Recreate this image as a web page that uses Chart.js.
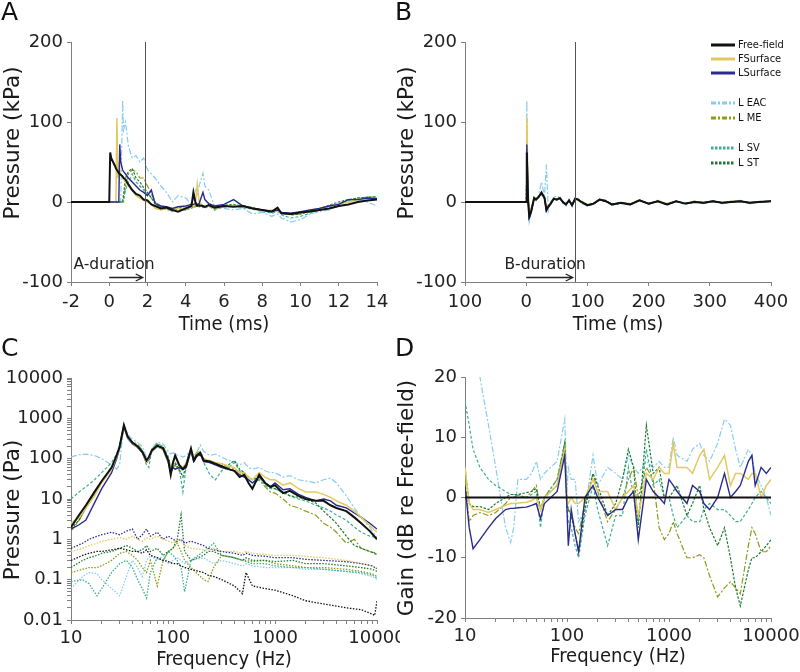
<!DOCTYPE html>
<html>
<head>
<meta charset="utf-8">
<script src="https://cdn.jsdelivr.net/npm/chart.js@4.4.0/dist/chart.umd.min.js"></script>
<style>
  body { margin: 0; background: #fff; width: 800px; height: 672px; position: relative; overflow: hidden; font-family: "DejaVu Sans", sans-serif; }
  canvas { position: absolute; }
  .panel { position: absolute; font-size: 25px; line-height: 25px; color: #111; }
  #legend { position: absolute; left: 711px; top: 0; font-family: "DejaVu Sans Condensed", "DejaVu Sans", sans-serif; font-size: 11px; color: #111; }
  #legend .row { position: absolute; left: 0; height: 14px; line-height: 14px; white-space: nowrap; }
  #legend svg { vertical-align: middle; margin-right: 3px; }
</style>
</head>
<body>
<canvas id="cA" width="400" height="336" style="left:0;top:0"></canvas>
<canvas id="cB" width="406" height="336" style="left:394px;top:0"></canvas>
<canvas id="cC" width="400" height="336" style="left:0;top:336px"></canvas>
<canvas id="cD" width="406" height="336" style="left:394px;top:336px"></canvas>
<div class="panel" style="left:1px;top:-1px">A</div>
<div class="panel" style="left:395px;top:-1px">B</div>
<div class="panel" style="left:1px;top:335px">C</div>
<div class="panel" style="left:395px;top:335px">D</div>
<div id="legend"></div>
<script>
// ---- series names and styles ----
const names  = ['Free-field', 'FSurface', 'LSurface', 'L EAC', 'L ME', 'L SV', 'L ST'];
const colors = ['#111111', '#e2ca5e', '#2b2b8f', '#88cdef', '#8e9b17', '#3cb08f', '#1c7b33'];
const dashes = [[], [], [], [6, 2, 2, 2], [6, 2, 2, 2], [3, 2], [2.5, 1.5]];
const widths = [2, 1.5, 1.4, 1.2, 1.2, 1.2, 1.2];

// ---- panel A: time (ms) / pressure (kPa) ----
const tA = [-2, 0, 0.05, 0.1, 0.3, 0.35, 0.4, 0.45, 0.5, 0.55,
  0.6, 0.7, 0.75, 0.85, 1.0, 1.2, 1.4, 1.6, 1.8, 2.0,
  2.2, 2.4, 2.7, 3.0, 3.3, 3.6, 4.0, 4.3, 4.4, 4.5,
  4.6, 4.7, 4.9, 5.0, 5.2, 5.5, 6, 6.5, 7, 7.5,
  8, 8.5, 8.8, 9, 9.5, 10, 10.5, 11, 11.5, 12,
  12.5, 13, 13.5, 14];
const ffA = [0, 0, 62, 55, 45, 42, 40, 38, 36, 35,
  34, 32, 30, 28, 22, 15, 10, 8, 3, 2,
  -3, -5, -8, -7, -10, -12, -8, -5, 12, 0,
  -5, -4, -5, -6, -4, -7, -5, -6, -5, -8,
  -10, -12, -7, -14, -15, -13, -12, -10, -8, -5,
  -3, 0, 2, 3];
const fsA = [0, 0, 0, 0, 0, 0, 105, 30, 45, 40,
  35, 30, 30, 25, 20, 15, 8, 5, 2, 0,
  -3, -8, -10, -8, -9, -8, -8, -6, -5, -3,
  22, 0, -5, -6, -5, -8, -6, -4, -6, -8,
  -12, -10, -12, -13, -14, -14, -10, -8, -5, -2,
  0, 3, 4, 5];
const lsA = [0, 0, 0, 0, 0, 0, 0, 0, 0, 72,
  50, 40, 38, 35, 30, 25, 20, 15, 12, 8,
  15, -2, -5, -6, -8, -6, -5, -3, -3, -2,
  -3, -2, 12, 3, -2, -5, -3, 3, -5, -8,
  -10, -12, -10, -13, -14, -12, -10, -8, -5, -3,
  3, 3, 5, 4];
const eacA = [0, 0, 0, 0, 0, 0, 0, 0, 0, 0,
  0, 127, 90, 100, 70, 55, 58, 50, 55, 40,
  35, 30, 20, 12, 0, 8, 5, -3, 5, 15,
  10, 20, 36, 20, 15, -5, -8, -10, -8, -15,
  -13, -18, -15, -20, -25, -22, -15, -12, -10, -5,
  0, 2, 0, -5];
const meA = [0, 0, 0, 0, 0, 0, 0, 0, 0, 0,
  0, 0, 0, 20, 35, 40, 38, 30, 30, 20,
  10, 0, -8, -10, -10, -9, -10, -8, -6, -6,
  -5, -6, -7, -6, -5, -8, -6, -4, -7, -8,
  -10, -12, -10, -14, -16, -15, -12, -8, -5, -2,
  2, 4, 5, 6];
const svA = [0, 0, 0, 0, 0, 0, 0, 0, 0, 0,
  0, 0, 5, 15, 25, 35, 25, 20, 15, 10,
  5, 0, -5, -8, -12, -8, -10, -6, -5, -4,
  -5, -3, -6, -8, -5, -10, -6, -5, -7, -9,
  -12, -14, -12, -16, -20, -18, -14, -10, -6, -2,
  2, 5, 6, 7];
const stA = [0, 0, 0, 0, 0, 0, 0, 0, 0, 0,
  0, 0, 10, 30, 38, 42, 30, 25, 18, 12,
  5, -2, -6, -9, -10, -7, -8, -6, -5, -4,
  -4, -5, -6, -5, -4, -7, -4, -3, -5, -7,
  -10, -12, -11, -14, -16, -15, -11, -8, -4, 0,
  3, 5, 6, 6];
const xTicksA = [-2, 0, 2, 4, 6, 8, 10, 12, 14];

// ---- panel B: long time window (ms) ----
const tB = [-100, 0, 1, 3, 5, 8, 10, 13, 16, 20,
  25, 30, 33, 36, 40, 45, 50, 55, 60, 65,
  70, 75, 80, 85, 90, 100, 110, 120, 130, 140,
  155, 170, 185, 200, 215, 230, 245, 260, 275, 290,
  305, 320, 335, 350, 365, 380, 400];
const ffB = [0, 0, 62, 0, -18, -12, -5, 5, 3, 6,
  12, 5, -10, -6, -2, 4, 3, 5, 0, -3,
  2, -4, 4, 3, 0, -4, -2, 3, 1, -3,
  -1, -3, 2, -2, 1, -3, 1, -2, 0, -1,
  1, -1, 0, 1, -1, 0, 1];
const fsB = [0, 0, 105, 15, -12, -8, -4, 6, 3, 7,
  10, 5, -8, -5, -1, 4, 3, 4, 0, -3,
  2, -3, 3, 3, 0, -3, -2, 3, 1, -3,
  -1, -2, 2, -2, 1, -2, 1, -2, 0, -1,
  1, -1, 0, 1, -1, 0, 1];
const lsB = [0, 0, 72, 12, -20, -13, -6, 5, 3, 6,
  11, 5, -11, -6, -2, 4, 3, 5, 0, -3,
  2, -4, 4, 3, 0, -4, -2, 3, 1, -3,
  -1, -3, 2, -2, 1, -3, 1, -2, 0, -1,
  1, -1, 0, 1, -1, 0, 1];
const eacB = [0, 0, 127, 10, -25, -15, -8, 5, 2, 8,
  25, 8, 47, -12, 0, 6, 8, 5, -2, -5,
  4, -6, 5, 4, -2, -5, -3, 4, 2, -4,
  -2, -4, 3, -3, 2, -4, 2, -3, 1, -2,
  2, -2, 1, 2, -2, 1, 0];
const meB = [0, 0, 40, 8, -15, -10, -4, 6, 4, 7,
  10, 6, -8, -5, -1, 5, 3, 4, -1, -3,
  2, -3, 4, 3, 1, -3, -2, 3, 2, -3,
  -1, -3, 2, -2, 2, -3, 1, -2, 1, -1,
  1, -1, 1, 1, -1, 0, 1];
const svB = [0, 0, 35, 5, -16, -11, -6, 4, 3, 6,
  9, 4, -9, -6, -2, 5, 2, 5, 0, -4,
  3, -4, 5, 2, 0, -5, -3, 3, 2, -4,
  -2, -3, 3, -3, 1, -4, 1, -3, 0, -2,
  1, -2, 0, 1, -2, 0, 1];
const stB = [0, 0, 42, 6, -14, -9, -5, 5, 3, 7,
  10, 5, -9, -5, -1, 4, 3, 4, -1, -3,
  2, -3, 4, 3, 0, -4, -2, 3, 1, -3,
  -1, -3, 2, -2, 1, -3, 1, -2, 0, -1,
  1, -1, 0, 1, -1, 0, 1];
const xTicksB = [-100, 0, 100, 200, 300, 400];
const xLabelsB = ['100', '0', '100', '200', '300', '400'];
const yTicksAB = [-100, 0, 100, 200];

// duration markers (ms)
const aDuration = 1.85, bDuration = 80;

// ---- panel C: spectra (Pa) ----
const fC = [10, 12, 14, 17, 20, 25, 28, 30, 33, 36,
  40, 45, 50, 55, 58, 62, 70, 80, 90, 95,
  100, 105, 115, 125, 135, 150, 160, 170, 185, 200,
  230, 260, 300, 350, 400, 450, 500, 550, 600, 700,
  800, 900, 1000, 1200, 1400, 1700, 2000, 2500, 3000, 3500,
  4000, 5000, 6000, 7000, 8500, 10000];
const ffC = [2, 4, 7, 15, 28, 60, 120, 200, 680, 350,
  250, 200, 150, 90, 110, 160, 210, 180, 90, 40,
  80, 120, 70, 55, 70, 180, 90, 120, 140, 90,
  85, 75, 65, 55, 50, 35, 40, 25, 18, 40,
  25, 20, 22, 14, 16, 12, 10, 9, 9, 7,
  6, 5, 3.5, 2.5, 1.6, 1];
const fsC = [2.5, 3.5, 6, 12, 25, 55, 110, 190, 650, 330,
  240, 190, 150, 80, 100, 150, 200, 170, 85, 50,
  75, 110, 65, 60, 80, 170, 100, 130, 150, 95,
  90, 80, 75, 65, 60, 45, 45, 35, 30, 45,
  35, 30, 30, 22, 25, 18, 15, 15, 13, 11,
  9, 7, 5, 3.5, 2.2, 1.5];
const lsC = [1.8, 2.3, 3, 8, 18, 45, 100, 180, 620, 320,
  230, 190, 140, 80, 95, 150, 200, 170, 80, 45,
  60, 55, 60, 55, 60, 160, 85, 110, 130, 85,
  80, 70, 60, 55, 50, 40, 35, 30, 25, 35,
  25, 20, 25, 17, 18, 13, 11, 9, 10, 9,
  7, 6, 4.5, 3.5, 2.5, 1.8];
const eacC = [110, 125, 130, 120, 100, 70, 55, 70, 720, 400,
  300, 250, 200, 110, 90, 180, 260, 230, 150, 130,
  140, 130, 120, 110, 120, 160, 120, 140, 220, 150,
  120, 130, 110, 90, 85, 70, 80, 60, 55, 60,
  50, 45, 45, 35, 38, 30, 28, 25, 30, 33,
  25, 12, 6, 3.5, 2, 1.1];
const meC = [1.6, 3, 6, 14, 28, 60, 110, 200, 650, 350,
  260, 230, 160, 85, 100, 170, 230, 200, 110, 60,
  60, 70, 50, 55, 80, 160, 100, 140, 150, 100,
  85, 75, 75, 60, 55, 45, 40, 30, 25, 30,
  20, 15, 14, 10, 7, 6, 5, 4, 2.5, 2,
  1.5, 0.8, 1, 0.6, 0.5, 0.45];
const svC = [10, 15, 20, 30, 45, 80, 130, 220, 700, 330,
  250, 210, 150, 70, 60, 170, 240, 200, 110, 60,
  80, 80, 60, 15, 70, 150, 80, 120, 130, 80,
  40, 30, 50, 60, 80, 50, 40, 30, 25, 30,
  22, 18, 18, 14, 12, 10, 9, 7, 6, 5,
  4, 3, 2, 1.5, 1.2, 1.1];
const stC = [1.8, 3, 6, 13, 27, 58, 110, 200, 660, 340,
  250, 200, 150, 85, 100, 160, 210, 180, 100, 55,
  65, 75, 55, 35, 70, 170, 95, 130, 140, 90,
  80, 70, 65, 70, 90, 55, 45, 35, 30, 35,
  25, 20, 18, 15, 12, 11, 10, 8, 5, 3.5,
  2.5, 1.2, 0.7, 0.6, 0.5, 0.42];

// noise floors (dotted)
const fN = [10, 13, 15, 18, 20, 25, 30, 35, 40, 45,
  50, 55, 60, 70, 80, 90, 100, 110, 120, 130,
  150, 200, 220, 250, 300, 400, 480, 520, 600, 800,
  1000, 1500, 2000, 3000, 5000, 7000, 9000, 9500, 10000];
const ffN = [0.3, 0.4, 0.45, 0.5, 0.5, 0.55, 0.6, 0.55, 0.5, 0.5,
  0.45, 0.55, 0.4, 0.35, 0.3, 0.28, 0.25, 0.25, 0.22, 0.2,
  0.18, 0.15, 0.13, 0.12, 0.1, 0.07, 0.045, 0.15, 0.07, 0.06,
  0.055, 0.04, 0.03, 0.025, 0.02, 0.018, 0.014, 0.013, 0.03];
const fsN = [0.5, 0.6, 0.7, 0.8, 0.9, 1.0, 1.1, 1.0, 1.2, 1.0,
  0.9, 1.1, 1.0, 1.2, 1.0, 0.9, 0.8, 1.0, 0.9, 0.7,
  0.6, 0.55, 0.5, 0.6, 0.5, 0.5, 0.45, 0.5, 0.45, 0.42,
  0.4, 0.4, 0.38, 0.35, 0.3, 0.25, 0.22, 0.2, 0.18];
const lsN = [0.6, 0.8, 1.0, 1.2, 1.3, 1.5, 1.3, 1.6, 1.8, 1.0,
  1.3, 1.8, 1.2, 1.5, 1.0, 1.2, 1.0, 0.9, 1.0, 0.8,
  0.9, 0.7, 0.6, 0.55, 0.5, 0.45, 0.4, 0.45, 0.4, 0.38,
  0.35, 0.35, 0.32, 0.3, 0.28, 0.25, 0.22, 0.2, 0.19];
const eacN = [0.06, 0.12, 0.15, 0.14, 0.1, 0.06, 0.04, 0.12, 0.3, 0.2,
  0.12, 0.3, 0.4, 0.3, 0.4, 0.25, 0.3, 0.35, 0.3, 0.25,
  0.3, 0.35, 0.3, 0.25, 0.3, 0.25, 0.22, 0.25, 0.22, 0.2,
  0.2, 0.2, 0.18, 0.18, 0.16, 0.14, 0.12, 0.11, 0.1];
const meN = [0.15, 0.18, 0.2, 0.2, 0.22, 0.3, 0.45, 0.5, 0.4, 0.3,
  0.2, 0.15, 0.3, 0.07, 0.3, 0.5, 0.6, 0.8, 0.5, 0.3,
  0.2, 0.1, 0.09, 0.2, 0.4, 0.35, 0.3, 0.3, 0.28, 0.3,
  0.25, 0.22, 0.2, 0.2, 0.18, 0.16, 0.14, 0.13, 0.12];
const svN = [0.09, 0.1, 0.08, 0.04, 0.06, 0.15, 0.25, 0.3, 0.2, 0.1,
  0.06, 0.035, 0.15, 0.35, 0.3, 0.5, 0.4, 0.3, 0.2, 0.05,
  0.3, 0.5, 0.6, 0.8, 0.4, 0.35, 0.3, 0.28, 0.25, 0.25,
  0.22, 0.2, 0.2, 0.18, 0.16, 0.15, 0.13, 0.12, 0.11];
const stN = [0.2, 0.3, 0.35, 0.4, 0.45, 0.5, 0.6, 0.7, 0.6, 0.5,
  0.55, 0.7, 0.5, 0.6, 0.4, 0.5, 0.6, 1.0, 4.0, 0.5,
  0.3, 0.4, 0.5, 0.5, 0.4, 0.35, 0.3, 0.35, 0.3, 0.3,
  0.28, 0.3, 0.25, 0.25, 0.22, 0.2, 0.18, 0.17, 0.16];
const yMajorsC = [0.01, 0.1, 1, 10, 100, 1000, 10000];
const yLabelsC = ['0.01', '0.1', '1', '10', '100', '1000', '10000'];
const xMajors = [10, 100, 1000, 10000];
const xLabels = ['10', '100', '1000', '10000'];

// ---- panel D: gain re free-field (dB) ----
const fD = [10, 11, 12, 14, 17, 20, 25, 28, 30, 33,
  40, 45, 50, 55, 60, 80, 95, 100, 103, 110,
  120, 130, 150, 180, 200, 250, 300, 350, 400, 450,
  500, 600, 700, 800, 900, 1000, 1100, 1200, 1500, 1700,
  2000, 2200, 2500, 3000, 3500, 4000, 4500, 5000, 6000, 6500,
  7000, 8000, 9000, 10000];
const zeroD = [0, 0];
const zeroF = [10, 10000];
const lsD = [2, -5, -8.5, -7, -5, -3.5, -2, -1.8, -1.8, -1.7,
  -1.6, -1.3, -1, -3.5, -1, 1, 7, -2, -8, -2,
  -6, -9, 0, 2, 0, -3, -2, -2, 0, 1,
  -7, 3, 1, 0, -1, 3, 2, 1, -1, 2,
  1, -1, -2, 0, 4, 0, 1, 2, 6, 7,
  2, 5, 4, 5];
const fsD = [5, -1, -2, -2, -2.5, -2, -1.3, -1, -1, -0.9,
  -0.8, -0.5, 0, -2, 0, 2, 8, -1, -1, 0,
  -1, -1, 0, 3, 1, 1, -2, 0, 1, 2,
  -3, 4, 3, 5, 4, 4, 9, 5, 5, 4,
  7, 8, 3, 5, 7, 2, 4, 4, 3, 4,
  4, 0, 2, 3];
const eacD = [40, 32, 26, 20, 12, 5, -5, -7.5, -5, 3,
  3, 4, 6, 3, 4, 6, 13, 1, 5, 3,
  3, -4, -2, 7, 2, 5, 4, 3, 7, 5,
  4, 6, 5, 6, 5, 5, 10, 7, 6, 8,
  9, 7, 6, 9, 13, 12, 8, 5, 8, 7,
  4, 2, 0, -3];
const meD = [3, -4, -3, -2.5, -3, -2.5, -1, 0, 0, 0.5,
  0, 1, 2, -2, 0, 3, 9, -1, -2, -3,
  -5, -6, -1, 4, 1, -4, -2, 0, 3, 5,
  0, 5, 3, -5, -7, -6, -4, -6, -10, -10,
  -9.5, -10, -13, -16.5, -15, -14, -15, -16, -8, -5,
  -6, -9, -9, -8];
const svD = [16, 12, 8, 5, 3, 2, 1, 0.5, 0.5, 0.3,
  0, 0.5, 1, -5, 0, 3, 9, -2, -4, -5,
  -8, -10, -3, 2, -2, -8, -3, -3, 5, 0,
  -4, 8, 2, 3, 0, 0, -3, -5, -3, -4,
  -4, -2, -1, -2, -2, -3, -4, -4, -2, -1,
  0, 1, 0, -1];
const stD = [5, -1, -1.5, -1.5, -2, -1, 0, 0.5, 0.5, 0.5,
  0.8, 1, 1.5, -2, 0, 2, 9, -1, -2, -3,
  -6, -9, -2, 4, 2, -3, -1, 3, 8, 5,
  -5, 12, 4, 5, 0, 0, 1, 2, -3, -1,
  2, -2, -5, -8, -5, -10, -15, -18, -12, -10,
  -10, -9, -8, -7];
const yTicksD = [-20, -10, 0, 10, 20];

// ---------- helpers ----------
const FONT = "'DejaVu Sans', sans-serif";
const FONT_C = "'DejaVu Sans Condensed', 'DejaVu Sans', sans-serif";
const AXIS = '#808080';

function line(k, xs, ys, extra) {
  return Object.assign({
    label: names[k],
    data: xs.map((x, i) => ({ x: x, y: ys[i] })),
    borderColor: colors[k],
    borderWidth: widths[k],
    borderDash: dashes[k],
    pointRadius: 0,
    tension: 0,
    fill: false
  }, extra || {});
}
function noise(k, ys) {
  return line(k, fN, ys, { borderDash: [1.5, 1.5], borderWidth: 1.3 });
}

// ticks 1..9 x 10^n between lo and hi (minor marks on log axes)
function logTicks(lo, hi) {
  const out = [];
  for (let e = Math.round(Math.log10(lo)); e < Math.round(Math.log10(hi)); e++) {
    for (let m = 1; m < 10; m++) out.push({ value: m * Math.pow(10, e) });
  }
  out.push({ value: hi });
  return out;
}
function majorLabel(majors, labels) {
  return function (v) {
    for (let i = 0; i < majors.length; i++) {
      if (Math.abs(v / majors[i] - 1) < 1e-6) return labels[i];
    }
    return '';
  };
}

function axis(o) {
  return {
    type: o.type || 'linear',
    min: o.min, max: o.max,
    border: { color: AXIS, width: 1 },
    grid: { drawOnChartArea: false, drawTicks: true, tickLength: 4, color: AXIS },
    ticks: {
      font: { family: FONT, size: 18 }, color: '#222',
      autoSkip: false, maxRotation: 0, padding: o.pad,
      callback: o.label
    },
    afterBuildTicks: function (s) { s.ticks = o.ticks; },
    afterFit: function (s) {
      if (o.height) { s.height = o.height; s.paddingLeft = 0; s.paddingRight = 0; }
      if (o.width) { s.width = o.width; s.paddingTop = 0; s.paddingBottom = 0; }
    }
  };
}
function fromList(values, labels) {
  return { ticks: values.map(v => ({ value: v })), label: (v, i) => (labels || values.map(String))[i] };
}

// axis titles, duration marker
const decor = {
  id: 'decor',
  afterDraw(chart, args, o) {
    const ctx = chart.ctx, a = chart.chartArea;
    ctx.save();
    ctx.fillStyle = '#1a1a1a';
    ctx.textAlign = 'center';
    ctx.textBaseline = 'middle';
    ctx.font = '20px ' + FONT_C;
    ctx.fillText(o.xTitle, (a.left + a.right) / 2, o.xTitleY);
    ctx.save();
    ctx.translate(o.yTitleX, o.yTitleY);
    ctx.rotate(-Math.PI / 2);
    ctx.font = '21.5px ' + FONT;
    ctx.fillText(o.yTitle, 0, 0);
    ctx.restore();
    if (o.dur) {
      const xs = chart.scales.x, ys = chart.scales.y, d = o.dur;
      const lx = Math.round(xs.getPixelForValue(d.at)) + 0.5;
      ctx.strokeStyle = '#555';
      ctx.lineWidth = 1;
      ctx.beginPath(); ctx.moveTo(lx, a.top); ctx.lineTo(lx, a.bottom); ctx.stroke();
      const x0 = xs.getPixelForValue(d.from), x1 = xs.getPixelForValue(d.to);
      const ay = Math.round(ys.getPixelForValue(d.arrowY)) + 0.5;
      ctx.strokeStyle = '#222';
      ctx.lineWidth = 1.3;
      ctx.beginPath();
      ctx.moveTo(x0, ay); ctx.lineTo(x1, ay);
      ctx.moveTo(x1 - 7, ay - 3.5); ctx.lineTo(x1, ay); ctx.lineTo(x1 - 7, ay + 3.5);
      ctx.stroke();
      ctx.font = '15.5px ' + FONT;
      ctx.fillStyle = '#222';
      ctx.fillText(d.text, xs.getPixelForValue(d.textX), ys.getPixelForValue(d.textY));
    }
    ctx.restore();
  }
};
Chart.register(decor);

function makeChart(id, datasets, scales, pad, deco) {
  return new Chart(document.getElementById(id), {
    type: 'line',
    data: { datasets: datasets },
    options: {
      responsive: false,
      animation: false,
      events: [],
      layout: { padding: pad },
      plugins: { legend: { display: false }, tooltip: { enabled: false }, decor: deco },
      scales: scales
    }
  });
}

// ---------- A ----------
const tkA = fromList(xTicksA), tkY = fromList(yTicksAB);
makeChart('cA',
  [line(0, tA, ffA), line(2, tA, lsA), line(1, tA, fsA), line(6, tA, stA),
   line(5, tA, svA), line(4, tA, meA), line(3, tA, eacA)],
  {
    x: axis({ min: -2, max: 14, ticks: tkA.ticks, label: tkA.label, height: 54, pad: 6 }),
    y: axis({ min: -100, max: 200, ticks: tkY.ticks, label: tkY.label, width: 71, pad: 4 })
  },
  { top: 42, right: 23, left: 0, bottom: 0 },
  { xTitle: 'Time (ms)', xTitleY: 325, yTitle: 'Pressure (kPa)', yTitleX: 13, yTitleY: 143,
    dur: { at: aDuration, from: 0, to: 1.75, arrowY: -94, text: 'A-duration', textX: 0.25, textY: -79 } });

// ---------- B ----------
const tkB = fromList(xTicksB, xLabelsB);
makeChart('cB',
  [line(0, tB, ffB), line(2, tB, lsB), line(1, tB, fsB), line(6, tB, stB),
   line(5, tB, svB), line(4, tB, meB), line(3, tB, eacB)],
  {
    x: axis({ min: -100, max: 400, ticks: tkB.ticks, label: tkB.label, height: 54, pad: 6 }),
    y: axis({ min: -100, max: 200, ticks: tkY.ticks, label: tkY.label, width: 71, pad: 4 })
  },
  { top: 42, right: 29, left: 0, bottom: 0 },
  { xTitle: 'Time (ms)', xTitleY: 325, yTitle: 'Pressure (kPa)', yTitleX: 13, yTitleY: 143,
    dur: { at: bDuration, from: 0, to: 76, arrowY: -94, text: 'B-duration', textX: 31, textY: -79 } });

// ---------- C ----------
makeChart('cC',
  [line(0, fC, ffC), line(1, fC, fsC), line(2, fC, lsC), line(6, fC, stC),
   line(5, fC, svC), line(4, fC, meC), line(3, fC, eacC),
   noise(0, ffN), noise(1, fsN), noise(2, lsN), noise(6, stN),
   noise(5, svN), noise(4, meN), noise(3, eacN)],
  {
    x: axis({ type: 'logarithmic', min: 10, max: 10000, ticks: logTicks(10, 10000),
      label: majorLabel(xMajors, xLabels), height: 52, pad: 4 }),
    y: axis({ type: 'logarithmic', min: 0.01, max: 10000, ticks: logTicks(0.01, 10000),
      label: majorLabel(yMajorsC, yLabelsC), width: 71, pad: 4 })
  },
  { top: 42, right: 23, left: 0, bottom: 0 },
  { xTitle: 'Frequency (Hz)', xTitleY: 324, yTitle: 'Pressure (Pa)', yTitleX: 13, yTitleY: 174 });

// ---------- D ----------
const tkD = fromList(yTicksD);
makeChart('cD',
  [line(0, zeroF, zeroD), line(2, fD, lsD), line(1, fD, fsD), line(6, fD, stD),
   line(5, fD, svD), line(4, fD, meD), line(3, fD, eacD)],
  {
    x: axis({ type: 'logarithmic', min: 10, max: 10000, ticks: logTicks(10, 10000),
      label: majorLabel(xMajors, xLabels), height: 54, pad: 4 }),
    y: axis({ min: -20, max: 20, ticks: tkD.ticks, label: tkD.label, width: 71, pad: 4 })
  },
  { top: 41, right: 29, left: 0, bottom: 0 },
  { xTitle: 'Frequency (Hz)', xTitleY: 321, yTitle: 'Gain (dB re Free-field)', yTitleX: 13, yTitleY: 162 });

// ---------- legend (panel B) ----------
const legendY = [45, 59, 73, 103, 118, 148, 163];
const legendDash = ['', '', '', '5,2,2,2', '5,2,2,2', '2.5,1.5', '2.5,1.5'];
const legend = document.getElementById('legend');
names.forEach((n, k) => {
  const row = document.createElement('div');
  row.className = 'row';
  row.style.top = (legendY[k] - 7) + 'px';
  row.innerHTML = '<svg width="24" height="6"><line x1="0" y1="3" x2="24" y2="3" stroke="' + colors[k] +
    '" stroke-width="3" stroke-dasharray="' + legendDash[k] + '"/></svg>' + n;
  legend.appendChild(row);
});
</script>
</body>
</html>
